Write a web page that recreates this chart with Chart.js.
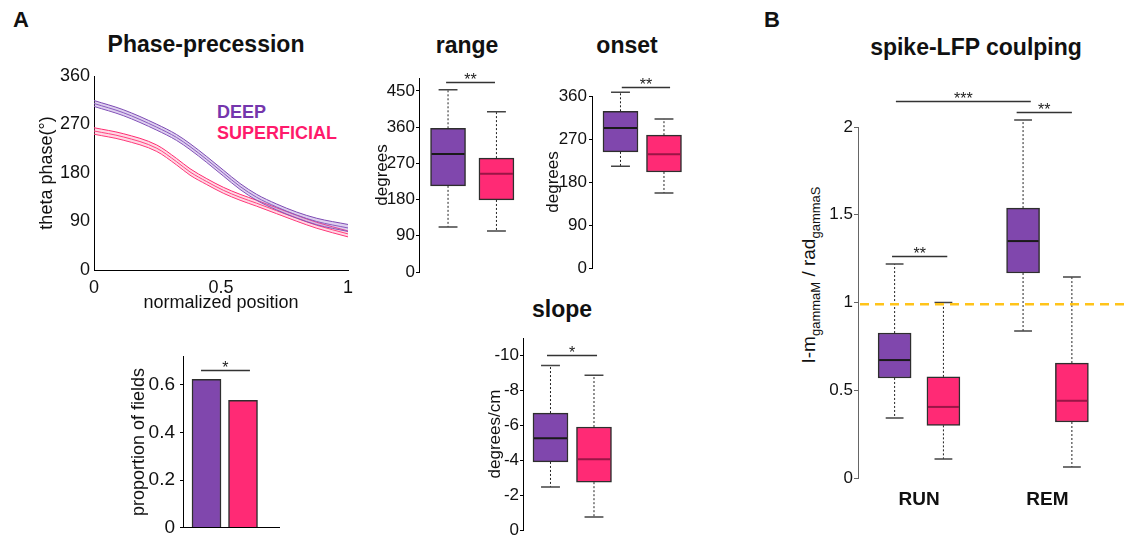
<!DOCTYPE html>
<html>
<head>
<meta charset="utf-8">
<script src="https://cdn.jsdelivr.net/npm/chart.js@4.4.1/dist/chart.umd.min.js"></script>
<style>
body { margin: 0; background: #fff; width: 1127px; height: 544px; position: relative; overflow: hidden; font-family: "Liberation Sans", Arial, sans-serif; }
canvas { position: absolute; }
.lbl { position: absolute; transform: translate(-50%, -50%); white-space: nowrap; color: #111; }
.ttl { font-weight: bold; font-size: 23px; }
.leg { position: absolute; transform: translate(0, -50%); font-weight: bold; font-size: 18px; white-space: nowrap; }
sub { font-size: 13px; vertical-align: -5px; }
</style>
</head>
<body>
<div class="lbl ttl" style="left:21px;top:20px;font-size:22px">A</div>
<div class="lbl ttl" style="left:772px;top:20px;font-size:22px">B</div>
<div class="lbl ttl" style="left:206px;top:44px">Phase-precession</div>
<div class="lbl ttl" style="left:467px;top:45px">range</div>
<div class="lbl ttl" style="left:627px;top:45px">onset</div>
<div class="lbl ttl" style="left:562px;top:309px">slope</div>
<div class="lbl ttl" style="left:976px;top:47px">spike-LFP coulping</div>
<div class="leg" style="left:217px;top:112px;color:#7536ad">DEEP</div>
<div class="leg" style="left:217px;top:133px;color:#ff1a6c">SUPERFICIAL</div>
<div class="lbl" style="left:810px;top:275px;font-size:19px;transform:translate(-50%,-50%) rotate(-90deg)">I-m<sub>gammaM</sub> / rad<sub>gammaS</sub></div>

<canvas id="phase" width="365" height="270" style="left:0px;top:50px"></canvas>
<canvas id="range" width="180" height="230" style="left:360px;top:60px"></canvas>
<canvas id="onset" width="170" height="230" style="left:540px;top:60px"></canvas>
<canvas id="prop" width="190" height="204" style="left:100px;top:340px"></canvas>
<canvas id="slope" width="160" height="224" style="left:470px;top:320px"></canvas>
<canvas id="coupling" width="337" height="474" style="left:790px;top:70px"></canvas>

<script>
// ---- data ----
const groups = ['DEEP', 'SUPERFICIAL'];
const groupFill = ['#8047ad', '#ff2a75'];
const medianColor = ['#1a1a1a', '#9a1546'];

// phase precession (normalized position -> theta phase, mean and sem)
const phaseX = [0, 0.115, 0.247, 0.325, 0.378, 0.444, 0.509, 0.575, 0.64, 0.719, 0.798, 0.877, 1.0];
const deepPhase = [309, 292, 265, 246, 229, 205, 180, 155, 135, 117, 102, 90, 78];
const deepSem = [5.5, 5.5, 5.5, 5.5, 5.5, 5.5, 5.5, 5.5, 5.5, 5.5, 5.5, 6, 6.5];
const supPhase = [258, 247, 226, 201, 182, 164, 148, 135, 124, 110, 96, 83, 67];
const supSem = [6, 6, 6, 6, 6, 5.5, 5.5, 5.5, 5.5, 5.5, 5.5, 5.5, 5.5];

// range (degrees): whisker low, q1, median, q3, whisker high
const rangeLo = [112, 102];
const rangeQ1 = [214, 179];
const rangeMed = [293, 244];
const rangeQ3 = [357, 283];
const rangeHi = [453, 398];

// onset (degrees)
const onsetLo = [213, 157];
const onsetQ1 = [243, 201];
const onsetMed = [293, 238];
const onsetQ3 = [328, 278];
const onsetHi = [368, 312];

// slope (degrees/cm)
const slopeLo = [-2.46, -0.74];
const slopeQ1 = [-3.9, -2.74];
const slopeMed = [-5.26, -4.06];
const slopeQ3 = [-6.7, -5.9];
const slopeHi = [-9.43, -8.86];

// proportion of fields
const propFields = [0.624, 0.535];

// spike-LFP coupling, per state
const states = ['RUN', 'REM'];
const deepLo = [0.342, 0.838];
const deepQ1 = [0.57, 1.168];
const deepMed = [0.672, 1.35];
const deepQ3 = [0.826, 1.538];
const deepHi = [1.219, 2.04];
const supLo = [0.108, 0.063];
const supQ1 = [0.30, 0.319];
const supMed = [0.405, 0.44];
const supQ3 = [0.576, 0.655];
const supHi = [1.0, 1.145];
const unityLine = 0.99;

// significance bars: [from, to, height, stars]
const rangeSig = [[0.96, 1.97, 472, '**']];
const onsetSig = [[1.03, 2.14, 379, '**']];
const propSig = [[0.85, 2.19, 0.661, '*']];
const slopeSig = [[0.92, 2.07, -10, '*']];
const couplingSig = [[0.82, 1.87, 2.15, '***'], [1.76, 2.19, 2.085, '**'], [0.79, 1.22, 1.265, '**']];

// ---- drawing ----
Chart.defaults.font.family = '"Liberation Sans", Arial, sans-serif';
Chart.defaults.color = '#111';

const FONT = '"Liberation Sans", Arial, sans-serif';
const plainNum = v => String(Math.round(v * 100) / 100);

function yAxis(o) {
  const ax = {
    min: o.min, max: o.max, reverse: !!o.reverse,
    afterFit: s => { s.width = o.w; },
    border: { display: true, color: o.color || '#000', width: 1 },
    grid: { display: true, drawOnChartArea: false, drawTicks: true, tickLength: o.tl || 3, color: o.color || '#000' },
    ticks: { stepSize: o.step, includeBounds: false, padding: o.pad, font: { size: o.font || 17 }, color: '#111', callback: o.cb || plainNum },
    title: { display: false }
  };
  if (o.title) ax.title = { display: true, text: o.title, font: { size: o.titleSize || 17 }, padding: { top: o.titlePad, bottom: 0 }, color: '#111' };
  return ax;
}

// whiskers, caps, medians and significance bars drawn through the chart scales
function boxExtras(stats, boxW, sig, refY) {
  return {
    id: 'boxExtras',
    afterDraw(chart) {
      const { ctx, scales: { x, y }, chartArea } = chart;
      ctx.save();
      if (stats) {
        stats.xs.forEach((xv, i) => {
          const px = x.getPixelForValue(xv);
          const cap = boxW * 0.27;
          ctx.strokeStyle = '#222';
          ctx.lineWidth = 1;
          ctx.setLineDash([2, 2]);
          ctx.beginPath();
          ctx.moveTo(px, y.getPixelForValue(stats.q3[i]));
          ctx.lineTo(px, y.getPixelForValue(stats.hi[i]));
          ctx.moveTo(px, y.getPixelForValue(stats.q1[i]));
          ctx.lineTo(px, y.getPixelForValue(stats.lo[i]));
          ctx.stroke();
          ctx.setLineDash([]);
          ctx.strokeStyle = '#444';
          ctx.lineWidth = 1.5;
          ctx.beginPath();
          [stats.hi[i], stats.lo[i]].forEach(v => {
            const py = y.getPixelForValue(v);
            ctx.moveTo(px - cap, py);
            ctx.lineTo(px + cap, py);
          });
          ctx.stroke();
          ctx.strokeStyle = stats.medColors[i];
          ctx.lineWidth = 2;
          ctx.beginPath();
          const pm = y.getPixelForValue(stats.med[i]);
          ctx.moveTo(px - boxW / 2 + 1, pm);
          ctx.lineTo(px + boxW / 2 - 1, pm);
          ctx.stroke();
        });
      }
      if (refY !== undefined) {
        const py = y.getPixelForValue(refY);
        ctx.strokeStyle = '#ffc41a';
        ctx.lineWidth = 2.5;
        ctx.setLineDash([9, 6]);
        ctx.beginPath();
        ctx.moveTo(chartArea.left + 2, py);
        ctx.lineTo(chartArea.right, py);
        ctx.stroke();
        ctx.setLineDash([]);
      }
      (sig || []).forEach(s => {
        const x1 = x.getPixelForValue(s[0]);
        const x2 = x.getPixelForValue(s[1]);
        const py = Math.round(y.getPixelForValue(s[2])) + 0.5;
        ctx.strokeStyle = '#333';
        ctx.lineWidth = 1.3;
        ctx.beginPath();
        ctx.moveTo(x1, py);
        ctx.lineTo(x2, py);
        ctx.stroke();
        ctx.fillStyle = '#222';
        ctx.font = '16px ' + FONT;
        ctx.textAlign = 'center';
        ctx.textBaseline = 'alphabetic';
        ctx.fillText(s[3], (x1 + x2) / 2, py + 2);
      });
      ctx.restore();
    }
  };
}

function boxPanel(id, c) {
  const boxes = c.xs.map((xv, i) => ({ x: xv, y: [c.q1[i], c.q3[i]] }));
  return new Chart(document.getElementById(id), {
    type: 'bar',
    data: {
      datasets: [{
        data: boxes,
        backgroundColor: c.fills,
        borderColor: '#2e2e2e',
        borderWidth: 1.5,
        borderSkipped: false,
        barThickness: c.boxW
      }]
    },
    options: {
      responsive: false,
      animation: false,
      layout: { padding: c.padding },
      scales: {
        x: c.xAxis || { type: 'linear', display: false, offset: false, min: c.xMin, max: c.xMax },
        y: yAxis(c.y)
      },
      plugins: { legend: { display: false }, tooltip: { enabled: false } }
    },
    plugins: [boxExtras({ xs: c.xs, lo: c.lo, q1: c.q1, med: c.med, q3: c.q3, hi: c.hi, medColors: c.medColors }, c.boxW, c.sig, c.refY)]
  });
}

// phase precession
function bandLine(mean, sem, sign, color, fill, bg) {
  return {
    data: phaseX.map((xv, i) => ({ x: xv, y: mean[i] + sign * sem[i] })),
    borderColor: color,
    borderWidth: 1,
    pointRadius: 0,
    cubicInterpolationMode: 'monotone',
    fill: fill,
    backgroundColor: bg
  };
}

new Chart(document.getElementById('phase'), {
  type: 'line',
  data: {
    datasets: [
      bandLine(deepPhase, deepSem, 1, '#7d4bb3', '+2', 'rgba(160,120,210,0.35)'),
      bandLine(deepPhase, deepSem, 0, '#7d4bb3', false, 'transparent'),
      bandLine(deepPhase, deepSem, -1, '#7d4bb3', false, 'transparent'),
      bandLine(supPhase, supSem, 1, '#ff2a70', '+2', 'rgba(255,130,170,0.3)'),
      bandLine(supPhase, supSem, 0, '#ff2a70', false, 'transparent'),
      bandLine(supPhase, supSem, -1, '#ff2a70', false, 'transparent')
    ]
  },
  options: {
    responsive: false,
    animation: false,
    layout: { padding: { left: 0, top: 26, right: 17, bottom: 0 } },
    scales: {
      x: {
        type: 'linear', min: 0, max: 1,
        afterFit: s => { s.height = 50; },
        border: { display: true, color: '#000' },
        grid: { display: false, drawTicks: false },
        ticks: { stepSize: 0.5, includeBounds: false, padding: 7, font: { size: 18 }, color: '#111', callback: plainNum },
        title: { display: true, text: 'normalized position', font: { size: 18 }, padding: { top: 0, bottom: 6.2 }, color: '#111' }
      },
      y: {
        min: 0, max: 360,
        afterFit: s => { s.width = 94; },
        border: { display: true, color: '#000' },
        grid: { display: false, drawTicks: false },
        ticks: { stepSize: 90, padding: 4, font: { size: 18 }, color: '#111' },
        title: { display: true, text: 'theta phase(°)', font: { size: 18 }, padding: { top: 36.2, bottom: 0 }, color: '#111' }
      }
    },
    plugins: { legend: { display: false }, tooltip: { enabled: false } }
  }
});

// range
boxPanel('range', {
  xs: [1, 2], lo: rangeLo, q1: rangeQ1, med: rangeMed, q3: rangeQ3, hi: rangeHi,
  fills: groupFill, medColors: medianColor, boxW: 35, sig: rangeSig,
  xMin: 0.4, xMax: 2.9,
  padding: { left: 0, top: 18, right: 0, bottom: 18 },
  y: { min: 0, max: 482, step: 90, w: 59, pad: 1, title: 'degrees', titlePad: 11.8 }
});

// onset
boxPanel('onset', {
  xs: [1, 2], lo: onsetLo, q1: onsetQ1, med: onsetMed, q3: onsetQ3, hi: onsetHi,
  fills: groupFill, medColors: medianColor, boxW: 35, sig: onsetSig,
  xMin: 0.345, xMax: 3.058,
  padding: { left: 0, top: 36, right: 0, bottom: 22 },
  y: { min: 0, max: 360, step: 90, w: 52, pad: 2, title: 'degrees', titlePad: 2.8 }
});

// slope
boxPanel('slope', {
  xs: [1, 2], lo: slopeLo, q1: slopeQ1, med: slopeMed, q3: slopeQ3, hi: slopeHi,
  fills: groupFill, medColors: medianColor, boxW: 35, sig: slopeSig,
  xMin: 0.368, xMax: 2.828,
  padding: { left: 0, top: 18, right: 0, bottom: 14 },
  y: { min: -11, max: 0, reverse: true, step: 1, w: 53, pad: 1, title: 'degrees/cm', titlePad: 14.8,
       cb: v => (Math.round(v) % 2 === 0 ? String(Math.round(v)) : '') }
});

// proportion of fields
new Chart(document.getElementById('prop'), {
  type: 'bar',
  data: {
    datasets: [{
      data: propFields.map((v, i) => ({ x: i + 1, y: v })),
      backgroundColor: groupFill,
      borderColor: '#2e2e2e',
      borderWidth: 1.5,
      borderSkipped: 'bottom',
      barThickness: 29
    }]
  },
  options: {
    responsive: false,
    animation: false,
    layout: { padding: { left: 0, top: 16, right: 11, bottom: 12 } },
    scales: {
      x: {
        type: 'linear', offset: false, min: 0.356, max: 2.986,
        afterFit: s => { s.height = 0; },
        border: { display: true, color: '#000' },
        grid: { display: false, drawTicks: false },
        ticks: { display: false }
      },
      y: yAxis({ min: 0, max: 0.72, step: 0.2, w: 83, pad: 5, font: 19, title: 'proportion of fields', titleSize: 18, titlePad: 28.2 })
    },
    plugins: { legend: { display: false }, tooltip: { enabled: false } }
  },
  plugins: [boxExtras(null, 0, propSig)]
});

// spike-LFP coupling
const offs = 0.19;
boxPanel('coupling', {
  xs: [1 - offs, 1 + offs, 2 - offs, 2 + offs],
  lo: [deepLo[0], supLo[0], deepLo[1], supLo[1]],
  q1: [deepQ1[0], supQ1[0], deepQ1[1], supQ1[1]],
  med: [deepMed[0], supMed[0], deepMed[1], supMed[1]],
  q3: [deepQ3[0], supQ3[0], deepQ3[1], supQ3[1]],
  hi: [deepHi[0], supHi[0], deepHi[1], supHi[1]],
  fills: [groupFill[0], groupFill[1], groupFill[0], groupFill[1]],
  medColors: [medianColor[0], medianColor[1], medianColor[0], medianColor[1]],
  boxW: 33, sig: couplingSig, refY: unityLine,
  padding: { left: 0, top: 57, right: 0, bottom: 0 },
  xAxis: {
    type: 'linear', offset: false, min: 0.525, max: 2.619,
    afterFit: s => { s.height = 66; },
    afterBuildTicks: s => { s.ticks = states.map((n, i) => ({ value: i + 1 })); },
    border: { display: false },
    grid: { display: false, drawTicks: false },
    ticks: { padding: 10, font: { size: 19, weight: 'bold' }, color: '#111', callback: v => states[Math.round(v) - 1] }
  },
  y: { min: 0, max: 2, step: 0.5, w: 68, pad: 1, tl: 4, color: '#666' }
});
</script>
</body>
</html>
